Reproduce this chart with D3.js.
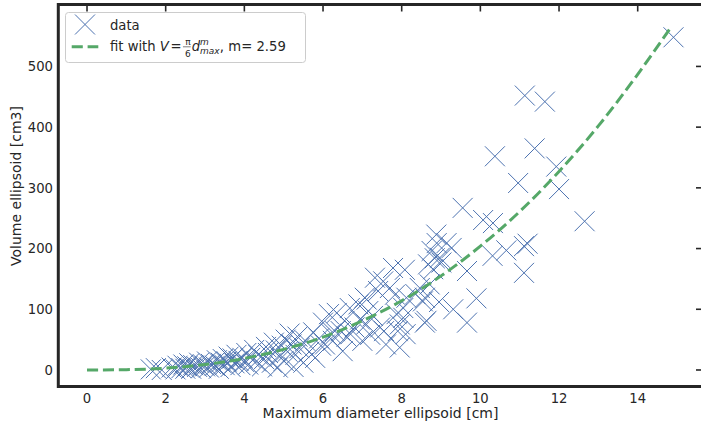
<!doctype html>
<html>
<head>
<meta charset="utf-8">
<script src="https://cdn.jsdelivr.net/npm/d3@7"></script>
<style>
  body { margin: 0; background: #fff; }
  text { font-family: "DejaVu Sans", sans-serif; fill: #262626; white-space: pre; }
</style>
</head>
<body>
<script>
// measured points: maximum diameter [cm] and ellipsoid volume [cm3]
const diameter = [
  1.62, 1.75, 1.9, 2.15, 2.25, 2.3, 2.4, 2.45, 2.5, 2.55, 2.6, 2.65, 2.7, 2.8, 2.85, 2.9, 2.95, 3.0,
  3.05, 3.1, 3.15, 3.25, 3.3, 3.35, 3.4, 3.45, 3.5, 3.55, 3.6, 3.65, 3.7, 3.75, 3.8, 3.85, 3.9, 3.95, 4.0,
  4.05, 4.1, 4.15, 4.25, 4.3, 4.35, 4.45, 4.5, 4.55, 4.6, 4.7, 4.75, 4.8, 4.85, 4.9, 4.95, 5.0, 5.05,
  5.1, 5.15, 5.2, 5.25, 5.3, 5.35, 5.4, 5.5, 5.55, 5.65, 5.75, 5.8, 5.9, 5.95,
  6.0, 6.05, 6.15, 6.2, 6.25, 6.3, 6.35, 6.45, 6.5, 6.55, 6.6, 6.68, 6.7, 6.8, 6.9, 6.94, 7.0, 7.06,
  7.1, 7.11, 7.15, 7.2, 7.27, 7.32, 7.4, 7.45, 7.53, 7.55, 7.6, 7.7,
  7.78, 7.83, 7.87, 7.9, 7.95, 7.95, 8.04, 8.08, 8.04, 8.1, 8.12, 8.35, 8.46, 8.54, 8.59, 8.59, 8.63,
  8.67, 8.71, 8.76, 8.8, 8.84, 8.89, 8.88, 8.95, 8.97, 9.01, 9.14, 9.27, 9.31, 9.55, 9.66, 9.66, 9.9,
  10.07, 10.32, 10.31, 10.37, 10.66, 10.96, 11.11, 11.2, 11.11, 11.13, 11.38, 11.64, 11.93, 12.0, 12.65, 14.91
];
const volume = [
  1, 3, 0, 4, 1, 7, 3, 9, 2, 6, 11, 2, 8, 5, 12, 3, 9, 6,
  14, 4, 10, 7, 16, 2, 12, 18, 8, 14, 22, 5, 19, 11, 25, 15, 8, 20, 13,
  28, 9, 20, 33, 14, 25, 6, 18, 38, 28, 12, 45, 32, 4, 22, 40, 15, 50,
  30, 60, 42, 5, 25, 55, 36, 12, 48, 30, 62, 20, 52, 40,
  78, 42, 92, 60, 48, 64, 94, 64, 31, 81, 55, 102, 59, 70, 108, 83, 48, 119,
  75, 116, 97, 58, 89, 152, 130, 70, 146, 64, 42, 135,
  168, 124, 92, 64, 37, 75, 102, 165, 86, 59, 119, 125, 135, 113, 119, 78, 81,
  174, 141, 196, 166, 184, 209, 223, 112, 185, 177, 209, 201, 100, 267, 163, 78, 118,
  247, 242, 188, 352, 197, 308, 204, 208, 160, 452, 365, 442, 335, 298, 245, 548
];

// fitted curve
const fitD = [0, 1, 2, 3, 4, 5, 6, 7, 8, 9, 10, 11, 12, 13, 14, 14.86];
const fitV = [0, 0.5, 3, 9, 19, 34, 54, 81, 114, 155, 204, 261, 327, 402, 487, 566];

const xTicks = [0, 2, 4, 6, 8, 10, 12, 14];
const yTicks = [0, 100, 200, 300, 400, 500];

const width = 701;
const height = 431;
const blue = "#4c72b0";
const green = "#55a868";
const ink = "#262626";
const fs = 13.2;

const x = d3.scaleLinear().domain([-0.73, 15.66]).range([58.3, 703]);
const y = d3.scaleLinear().domain([-27.2, 602]).range([386.5, 4.5]);

const svg = d3.select("body").append("svg")
    .attr("width", width)
    .attr("height", height);

const cross = (s) => `M${-s},${-s}L${s},${s}M${-s},${s}L${s},${-s}`;

// data markers
svg.append("g")
    .attr("fill", "none")
    .attr("stroke", blue)
    .attr("stroke-width", 1)
  .selectAll("path")
  .data(d3.zip(diameter, volume))
  .join("path")
    .attr("transform", ([d, v]) => `translate(${x(d)},${y(v)})`)
    .attr("d", cross(10));

// fit line on top
const line = d3.line()
    .x(([d]) => x(d))
    .y(([, v]) => y(v))
    .curve(d3.curveMonotoneX);

svg.append("path")
    .datum(d3.zip(fitD, fitV))
    .attr("fill", "none")
    .attr("stroke", green)
    .attr("stroke-width", 3)
    .attr("stroke-dasharray", "11.1,4.8")
    .attr("d", line);

// ticks: labels on bottom/left, inward tick marks on top/right
svg.append("g")
  .selectAll("text")
  .data(xTicks)
  .join("text")
    .attr("x", x)
    .attr("y", 403)
    .attr("text-anchor", "middle")
    .attr("font-size", fs)
    .text((d) => d);

svg.append("g")
  .selectAll("text")
  .data(yTicks)
  .join("text")
    .attr("x", 53)
    .attr("y", (d) => y(d) + 4.7)
    .attr("text-anchor", "end")
    .attr("font-size", fs)
    .text((d) => d);

svg.append("g")
    .attr("stroke", ink)
    .attr("stroke-width", 1.6)
  .selectAll("line")
  .data(xTicks)
  .join("line")
    .attr("x1", x).attr("x2", x)
    .attr("y1", y.range()[1]).attr("y2", y.range()[1] + 7);

svg.append("g")
    .attr("stroke", ink)
    .attr("stroke-width", 1.6)
  .selectAll("line")
  .data(yTicks)
  .join("line")
    .attr("y1", y).attr("y2", y)
    .attr("x1", x.range()[1]).attr("x2", x.range()[1] - 7);

// frame
svg.append("rect")
    .attr("x", x.range()[0])
    .attr("y", y.range()[1])
    .attr("width", x.range()[1] - x.range()[0])
    .attr("height", y.range()[0] - y.range()[1])
    .attr("fill", "none")
    .attr("stroke", ink)
    .attr("stroke-width", 3);

// axis labels
svg.append("text")
    .attr("x", 380.5)
    .attr("y", 418)
    .attr("text-anchor", "middle")
    .attr("font-size", 14)
    .text("Maximum diameter ellipsoid [cm]");

svg.append("text")
    .attr("transform", "translate(21,186) rotate(-90)")
    .attr("text-anchor", "middle")
    .attr("font-size", 14)
    .text("Volume ellipsoid [cm3]");

// legend
const legend = svg.append("g");
legend.append("rect")
    .attr("x", 65.5).attr("y", 12.5)
    .attr("width", 240).attr("height", 50)
    .attr("rx", 3)
    .attr("fill", "#fff").attr("fill-opacity", 0.8)
    .attr("stroke", "#cccccc");

legend.append("path")
    .attr("transform", "translate(85,24.5)")
    .attr("d", cross(10))
    .attr("fill", "none")
    .attr("stroke", blue)
    .attr("stroke-width", 1);

legend.append("text")
    .attr("x", 110).attr("y", 29.5)
    .attr("font-size", fs)
    .text("data");

legend.append("line")
    .attr("x1", 71.7).attr("x2", 98.3)
    .attr("y1", 46.7).attr("y2", 46.7)
    .attr("stroke", green)
    .attr("stroke-width", 3)
    .attr("stroke-dasharray", "11.1,4.8");

// "fit with V = π/6 d_max^m, m= 2.59" laid out piece by piece
const base = 51.3;
let cx = 110;
function piece(str, size, opts = {}) {
  const t = legend.append("text")
      .attr("x", cx + (opts.dx || 0))
      .attr("y", opts.y || base)
      .attr("font-size", size)
      .attr("font-style", opts.italic ? "italic" : null)
      .attr("text-anchor", opts.anchor || null)
      .text(str);
  return t.node().getComputedTextLength();
}
cx += piece("fit with", fs) + 4.2;
cx += piece("V", fs, {italic: true}) + 1.5;
cx += piece("=", fs) + 1.5;
{
  const wPi = piece("π", 9, {y: base - 6.5, anchor: "middle", dx: 5});
  const w6 = piece("6", 9, {y: base + 5.2, anchor: "middle", dx: 5});
  const w = Math.max(wPi, w6) + 2;
  legend.append("line")
      .attr("x1", cx).attr("x2", cx + w)
      .attr("y1", base - 4.5).attr("y2", base - 4.5)
      .attr("stroke", ink).attr("stroke-width", 0.6);
  cx += w + 1;
}
cx += piece("d", fs, {italic: true});
{
  const wm = piece("m", 9, {italic: true, y: base - 6});
  const wmax = piece("max", 9, {italic: true, y: base + 3});
  cx += Math.max(wm, wmax);
}
cx += piece(",", fs);
cx += 4.5;
piece("m= 2.59", fs);
</script>
</body>
</html>
